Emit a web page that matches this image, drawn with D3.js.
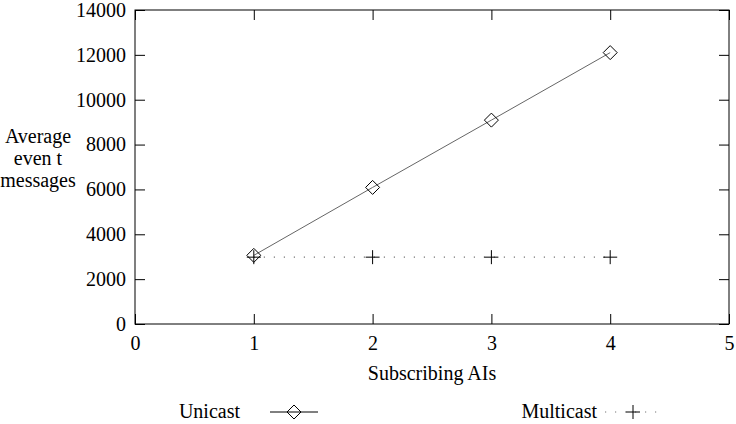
<!DOCTYPE html>
<meta charset="utf-8">
<script src="https://d3js.org/d3.v7.min.js"></script>
<style>
body { margin: 0; background: #fff; }
svg text { font-family: "Liberation Serif", "DejaVu Serif", serif; font-size: 20px; fill: #000; }
</style>
<body>
<div id="chart"></div>
<script>
// data
var ais = [1, 2, 3, 4];
var unicast = [3060, 6090, 9090, 12100];
var multicast = [2980, 2980, 2980, 2980];
var xTicks = [0, 1, 2, 3, 4, 5];
var yTicks = [0, 2000, 4000, 6000, 8000, 10000, 12000, 14000];

var W = 736, H = 424;
var margin = {top: 10, right: 7, bottom: 100, left: 135},
    width = W - margin.left - margin.right,
    height = H - margin.top - margin.bottom;

var svg = d3.select("#chart").append("svg")
    .attr("width", W).attr("height", H);
var g = svg.append("g")
    .attr("transform", "translate(" + margin.left + "," + margin.top + ")");

var x = d3.scaleLinear().domain([0, 5]).range([0, width]);
var y = d3.scaleLinear().domain([0, 14000]).range([height, 0]);

// frame
g.append("rect").attr("width", width).attr("height", height)
  .attr("fill", "none").attr("stroke", "#000").attr("stroke-width", 1);

// axes with inward ticks, mirrored on top/right
function styleAxis(sel) {
  sel.select(".domain").remove();
  sel.selectAll("line").attr("stroke", "#000");
  sel.attr("font-family", null).attr("font-size", null);
}
g.append("g").attr("transform", "translate(0," + height + ")")
  .call(d3.axisBottom(x).tickValues(xTicks).tickFormat(d3.format("d")).tickSizeInner(-10).tickPadding(12))
  .call(styleAxis);
g.append("g")
  .call(d3.axisTop(x).tickValues(xTicks).tickFormat("").tickSizeInner(-10))
  .call(styleAxis);
g.append("g")
  .call(d3.axisLeft(y).tickValues(yTicks).tickFormat(d3.format("d")).tickSizeInner(-10).tickPadding(9))
  .call(styleAxis);
g.append("g").attr("transform", "translate(" + width + ",0)")
  .call(d3.axisRight(y).tickValues(yTicks).tickFormat("").tickSizeInner(-10))
  .call(styleAxis);

// lines
var uData = ais.map(function(d, i) { return {x: d, y: unicast[i]}; });
var mData = ais.map(function(d, i) { return {x: d, y: multicast[i]}; });
var line = d3.line().x(function(d) { return x(d.x); }).y(function(d) { return y(d.y); });

g.append("path").datum(uData).attr("fill", "none")
  .attr("stroke", "#666").attr("stroke-width", 1).attr("d", line);
g.append("path").datum(mData).attr("fill", "none")
  .attr("stroke", "#777").attr("stroke-width", 1.2)
  .attr("stroke-dasharray", "1.2,8.8").attr("d", line);

function diamond(sel, cx, cy) {
  var r = 7;
  sel.append("path")
    .attr("d", "M" + cx + "," + (cy - r) + "L" + (cx + r) + "," + cy + "L" + cx + "," + (cy + r) + "L" + (cx - r) + "," + cy + "Z")
    .attr("fill", "none").attr("stroke", "#000").attr("stroke-width", 1);
}
function plus(sel, cx, cy) {
  var r = 7;
  sel.append("path")
    .attr("d", "M" + (cx - r) + "," + cy + "H" + (cx + r) + "M" + cx + "," + (cy - r) + "V" + (cy + r))
    .attr("fill", "none").attr("stroke", "#000").attr("stroke-width", 1);
}
uData.forEach(function(d) { diamond(g, x(d.x), y(d.y)); });
mData.forEach(function(d) { plus(g, x(d.x), y(d.y)); });

// axis titles
svg.append("text").attr("x", margin.left + width / 2).attr("y", 380)
  .attr("text-anchor", "middle").text("Subscribing AIs");
var yl = svg.append("text").attr("text-anchor", "middle");
["Average", "even t", "messages"].forEach(function(t, i) {
  yl.append("tspan").attr("x", 38).attr("y", 143 + i * 22).text(t);
});

// legend
var lg = svg.append("g");
lg.append("text").attr("x", 240).attr("y", 418).attr("text-anchor", "end").text("Unicast");
lg.append("line").attr("x1", 270).attr("x2", 318).attr("y1", 412).attr("y2", 412)
  .attr("stroke", "#000").attr("stroke-width", 1);
diamond(lg, 294, 412);
lg.append("text").attr("x", 597).attr("y", 418).attr("text-anchor", "end").text("Multicast");
lg.append("line").attr("x1", 605).attr("x2", 662).attr("y1", 412).attr("y2", 412)
  .attr("stroke", "#777").attr("stroke-width", 1.2).attr("stroke-dasharray", "1.2,8.8");
plus(lg, 633, 412);
</script>
</body>
